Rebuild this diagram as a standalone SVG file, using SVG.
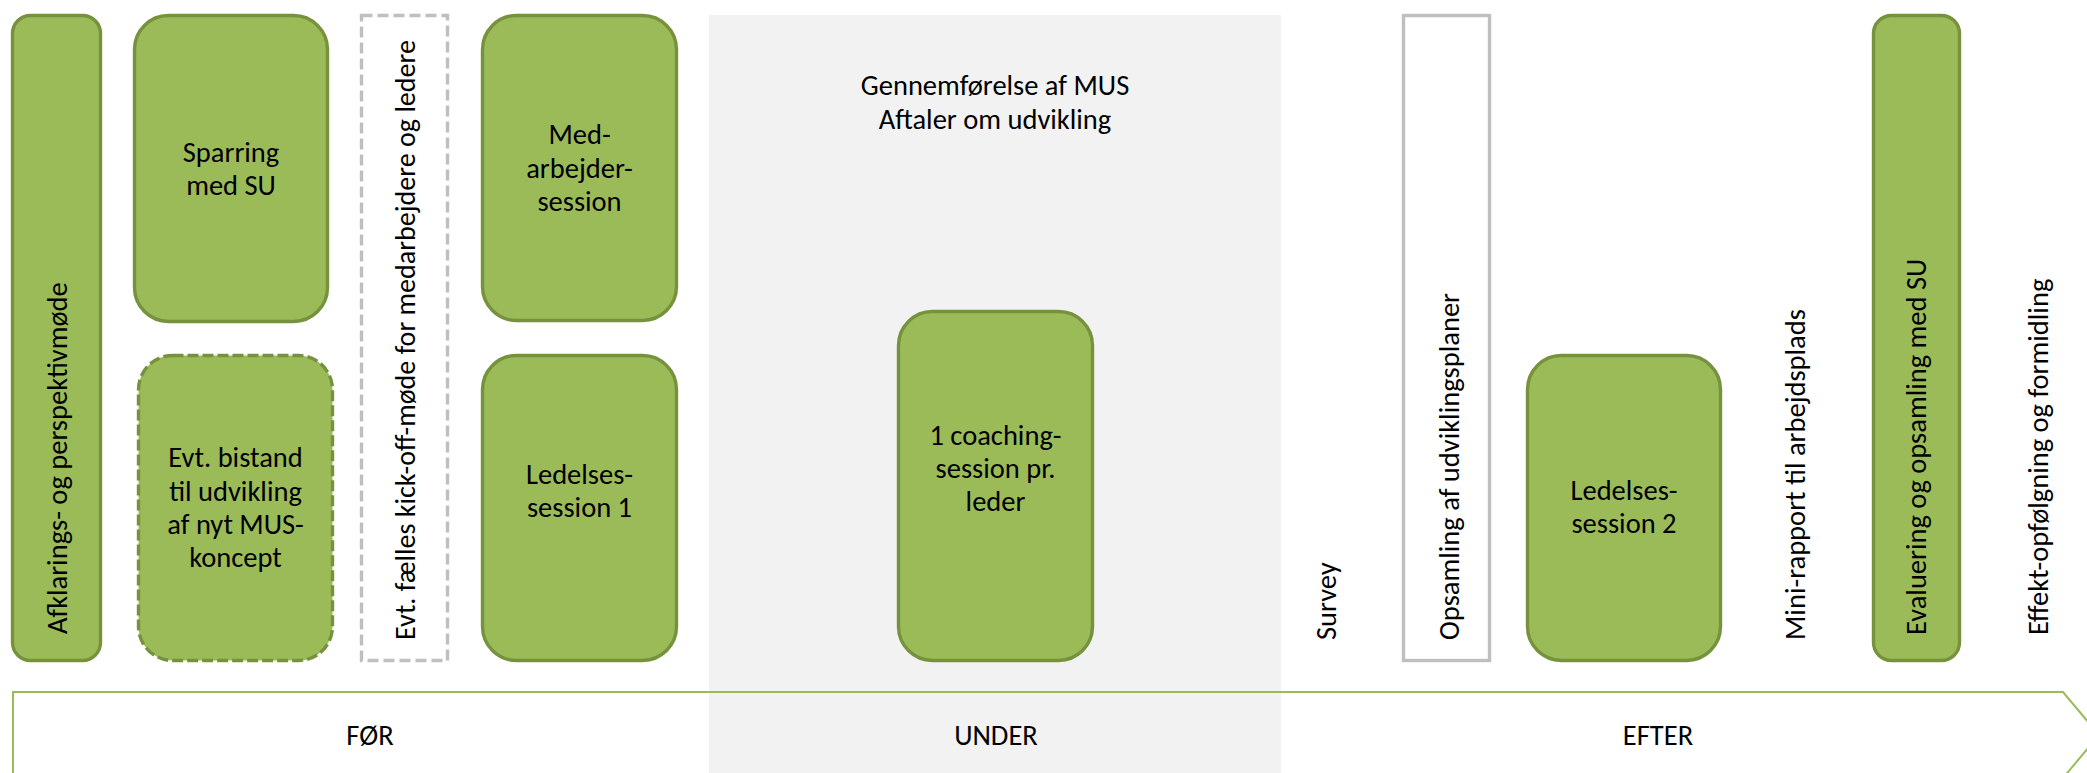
<svg xmlns="http://www.w3.org/2000/svg" width="2087" height="773" viewBox="0 0 2087 773">
<style>
.g{fill:#9bbb59;stroke:#76923c;stroke-width:3.4}
.gd{fill:#9bbb59;stroke:#76923c;stroke-width:3.4;stroke-dasharray:11 4}
.w{fill:#ffffff;stroke:#bfbfbf;stroke-width:3.4}
.wd{fill:#ffffff;stroke:#bfbfbf;stroke-width:3.4;stroke-dasharray:11 5}
text{font-family:Carlito,Lato,"Liberation Sans",sans-serif;font-size:28.5px;fill:#000}
.c{text-anchor:middle}
</style>
<rect x="709" y="15" width="572" height="758" fill="#f2f2f2"/>
<g id="phase-arrow">
<path d="M13,692 L2063,692 L2099,735 L2063,778 L13,778 Z" fill="none" stroke="#9bbb59" stroke-width="2"/>
<text class="c" x="370" y="745">FØR</text>
<text class="c" x="996" y="745">UNDER</text>
<text class="c" x="1658" y="745">EFTER</text>
</g>
<g id="connectors"></g>
<g id="afklarings">
<rect class="g" x="12.5" y="15.5" width="88" height="645" rx="18"/>
<text transform="translate(67,634) rotate(-90)">Afklarings- og perspektivmøde</text>
</g>
<g id="sparring">
<rect class="g" x="134.5" y="15.5" width="193" height="306" rx="34"/>
<text class="c" x="231" y="162">Sparring</text>
<text class="c" x="231" y="195">med SU</text>
</g>
<g id="bistand">
<rect class="gd" x="138.5" y="355.5" width="194" height="305" rx="34"/>
<text class="c" x="235.5" y="467">Evt. bistand</text>
<text class="c" x="235.5" y="501">til udvikling</text>
<text class="c" x="235.5" y="534">af nyt MUS-</text>
<text class="c" x="235.5" y="567">koncept</text>
</g>
<g id="kickoff">
<rect class="wd" x="361.5" y="15.5" width="86" height="645"/>
<text transform="translate(415,640) rotate(-90)" textLength="600" lengthAdjust="spacingAndGlyphs">Evt. fælles kick-off-møde for medarbejdere og ledere</text>
</g>
<g id="medarbejder">
<rect class="g" x="482.5" y="15.5" width="194" height="305" rx="34"/>
<text class="c" x="579.5" y="144">Med-</text>
<text class="c" x="579.5" y="177.5">arbejder-</text>
<text class="c" x="579.5" y="211">session</text>
</g>
<g id="ledelses1">
<rect class="g" x="482.5" y="355.5" width="194" height="305" rx="34"/>
<text class="c" x="579.5" y="483.5">Ledelses-</text>
<text class="c" x="579.5" y="516.5">session 1</text>
</g>
<g id="gennemforelse">
<text class="c" x="995" y="95">Gennemførelse af MUS</text>
<text class="c" x="995" y="128.5">Aftaler om udvikling</text>
</g>
<g id="coaching">
<rect class="g" x="898.5" y="311.5" width="194" height="349" rx="34"/>
<text class="c" x="995.5" y="444.5">1 coaching-</text>
<text class="c" x="995.5" y="477.5">session pr.</text>
<text class="c" x="995.5" y="511">leder</text>
</g>
<g id="survey">
<text transform="translate(1336,640) rotate(-90)">Survey</text>
</g>
<g id="opsamling">
<rect class="w" x="1403.5" y="15.5" width="86" height="645"/>
<text transform="translate(1459,640) rotate(-90)">Opsamling af udviklingsplaner</text>
</g>
<g id="ledelses2">
<rect class="g" x="1527.5" y="355.5" width="193" height="305" rx="34"/>
<text class="c" x="1624" y="500">Ledelses-</text>
<text class="c" x="1624" y="532.5">session 2</text>
</g>
<g id="minirapport">
<text transform="translate(1805,640) rotate(-90)">Mini-rapport til arbejdsplads</text>
</g>
<g id="evaluering">
<rect class="g" x="1873.5" y="15.5" width="86" height="645" rx="18"/>
<text transform="translate(1926,635) rotate(-90)">Evaluering og opsamling med SU</text>
</g>
<g id="effekt">
<text transform="translate(2048,635) rotate(-90)">Effekt-opfølgning og formidling</text>
</g>
</svg>
